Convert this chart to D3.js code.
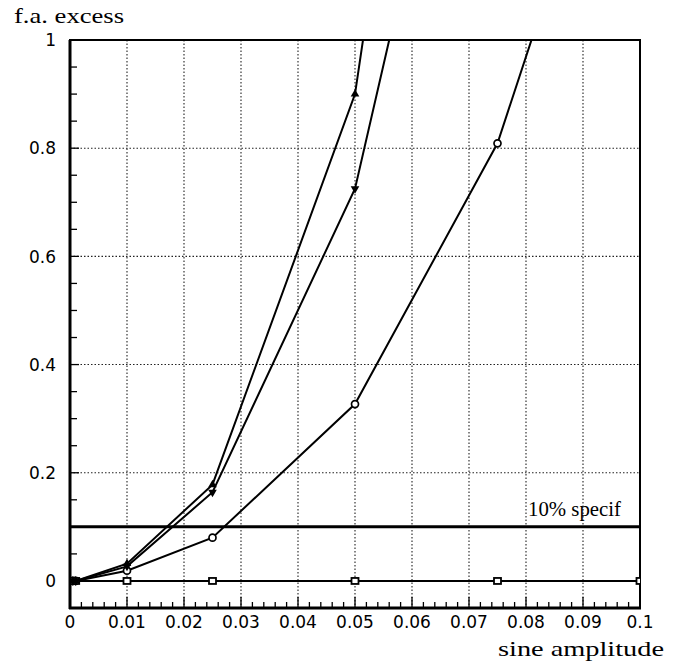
<!DOCTYPE html>
<html><head><meta charset="utf-8">
<script src="https://cdn.jsdelivr.net/npm/d3@7"></script>
<style>body{margin:0;background:#fff}</style>
</head><body>
<svg id="c" width="673" height="670"></svg>
<script>
// data
const xTriUp   = [0.0005, 0.001, 0.01, 0.025, 0.05, 0.075];
const yTriUp   = [0, 0, 0.032, 0.178, 0.90, 2.68];
const xTriDown = [0.0005, 0.001, 0.01, 0.025, 0.05, 0.075];
const yTriDown = [0, 0, 0.027, 0.164, 0.725, 1.87];
const xCircle  = [0.0005, 0.001, 0.01, 0.025, 0.05, 0.075, 0.1];
const yCircle  = [0, 0, 0.019, 0.08, 0.327, 0.809, 1.61];
const xSquare  = [0.0005, 0.001, 0.01, 0.025, 0.05, 0.075, 0.1];
const ySquare  = [0, 0, 0, 0, 0, 0, 0];
const specLevel = 0.1;
const specLabel = "10% specif";
const xTicks = [0,0.01,0.02,0.03,0.04,0.05,0.06,0.07,0.08,0.09,0.1];
const xTickLabels = ["0","0.01","0.02","0.03","0.04","0.05","0.06","0.07","0.08","0.09","0.1"];
const yTicks = [0,0.2,0.4,0.6,0.8,1];
const yTickLabels = ["0","0.2","0.4","0.6","0.8","1"];
const xTitle = "sine amplitude";
const yTitle = "f.a. excess";

const svg = d3.select("#c");
const L=70, R=640, T=40, B=608;
const x = d3.scaleLinear().domain([0,0.1]).range([L,R]);
const y = d3.scaleLinear().domain([-0.05,1]).range([B,T]);

svg.append("clipPath").attr("id","clip").append("rect")
  .attr("x",L).attr("y",T).attr("width",R-L).attr("height",B-T);

// grid
const grid = svg.append("g").attr("stroke","#222").attr("stroke-width",1.1).attr("stroke-dasharray","1.5,2");
xTicks.slice(1,-1).forEach(v=>grid.append("line").attr("x1",x(v)).attr("x2",x(v)).attr("y1",T).attr("y2",B));
yTicks.slice(1,-1).forEach(v=>grid.append("line").attr("x1",L).attr("x2",R).attr("y1",y(v)).attr("y2",y(v)));

// ticks
const tk = svg.append("g").attr("stroke","#000").attr("stroke-width",1.3);
d3.range(0,0.1001,0.002).forEach(v=>{
  const major = Math.abs(Math.round(v*100)-v*100)<1e-6;
  tk.append("line").attr("x1",x(v)).attr("x2",x(v)).attr("y1",B).attr("y2",B-(major?11:6));
});
d3.range(-0.05,1.0001,0.05).forEach(v=>{
  const major = Math.abs(Math.round(v*5)-v*5)<1e-6;
  tk.append("line").attr("x1",L).attr("x2",L+(major?9:7)).attr("y1",y(v)).attr("y2",y(v));
});

// frame
svg.append("rect").attr("x",L).attr("y",T).attr("width",R-L).attr("height",B-T)
  .attr("fill","none").attr("stroke","#000").attr("stroke-width",2);
svg.append("line").attr("x1",L).attr("x2",L).attr("y1",T).attr("y2",B+1).attr("stroke","#000").attr("stroke-width",3);
svg.append("line").attr("x1",L-1).attr("x2",R+1).attr("y1",B).attr("y2",B).attr("stroke","#000").attr("stroke-width",3);

// spec line
svg.append("line").attr("x1",L).attr("x2",R).attr("y1",y(specLevel)).attr("y2",y(specLevel))
  .attr("stroke","#000").attr("stroke-width",3);
const serif = "Liberation Serif, Times New Roman, serif";
svg.append("text").attr("x",528).attr("y",y(specLevel)-11).attr("font-family",serif)
  .attr("font-size",21).attr("textLength",93).attr("lengthAdjust","spacingAndGlyphs").text(specLabel);

// tick labels
const tfont = "DejaVu Sans, sans-serif";
xTicks.forEach((v,i)=>svg.append("text").attr("x",x(v)).attr("y",628).attr("text-anchor","middle")
  .attr("font-family",tfont).attr("font-size",17).text(xTickLabels[i]));
yTicks.forEach((v,i)=>svg.append("text").attr("x",56).attr("y",y(v)).attr("dy","0.36em").attr("text-anchor","end")
  .attr("font-family",tfont).attr("font-size",17).text(yTickLabels[i]));

// titles
svg.append("text").attr("x",14).attr("y",23).attr("font-family",serif)
  .attr("font-size",22).attr("textLength",110).attr("lengthAdjust","spacingAndGlyphs").text(yTitle);
svg.append("text").attr("x",498).attr("y",656).attr("font-family",serif)
  .attr("font-size",22).attr("textLength",166).attr("lengthAdjust","spacingAndGlyphs").text(xTitle);

// series
const plot = svg.append("g").attr("clip-path","url(#clip)");
const line = d3.line().x(d=>x(d[0])).y(d=>y(d[1]));
const series = [
  {xs:xSquare, ys:ySquare, m:"square"},
  {xs:xCircle, ys:yCircle, m:"circle"},
  {xs:xTriDown, ys:yTriDown, m:"down"},
  {xs:xTriUp, ys:yTriUp, m:"up"}
];
series.forEach(s=>{
  const pts = s.xs.map((v,i)=>[v,s.ys[i]]);
  plot.append("path").attr("d",line(pts)).attr("fill","none").attr("stroke","#000").attr("stroke-width",2);
  pts.forEach(p=>{
    const cx=x(p[0]), cy=y(p[1]);
    if(s.m==="square") plot.append("rect").attr("x",cx-3.5).attr("y",cy-3).attr("width",7).attr("height",6)
       .attr("fill","#fff").attr("stroke","#000").attr("stroke-width",1.8);
    else if(s.m==="circle") plot.append("circle").attr("cx",cx).attr("cy",cy).attr("r",3.5)
       .attr("fill","#fff").attr("stroke","#000").attr("stroke-width",1.7);
    else plot.append("path").attr("d",d3.symbol(d3.symbolTriangle,32)())
       .attr("transform",`translate(${cx},${cy})`+(s.m==="down"?" rotate(180)":""))
       .attr("fill","#000");
  });
});
</script>
</body></html>
